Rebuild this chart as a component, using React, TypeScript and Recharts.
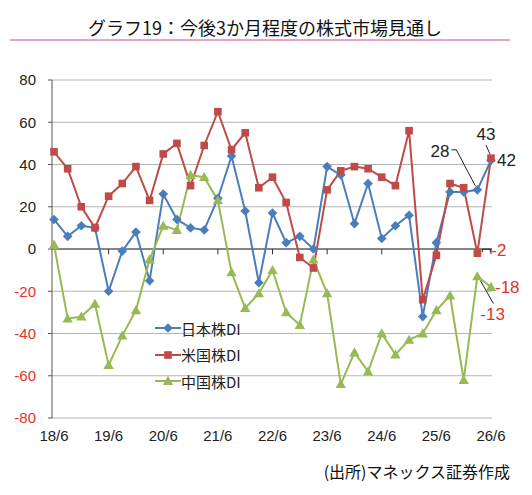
import React from 'react'
import {
  LineChart,
  Line,
  XAxis,
  YAxis,
  CartesianGrid,
  ReferenceLine,
  Legend,
  LabelList,
} from 'recharts'

// quarterly survey points, 2018/6 .. 2026/6
const periods = [
  '18/6', '18/9', '18/12', '19/3', '19/6', '19/9', '19/12', '20/3', '20/6', '20/9', '20/12',
  '21/3', '21/6', '21/9', '21/12', '22/3', '22/6', '22/9', '22/12', '23/3', '23/6', '23/9',
  '23/12', '24/3', '24/6', '24/9', '24/12', '25/3', '25/6', '25/9', '25/12', '26/3', '26/6',
]

const japanDI = [
  14, 6, 11, 10, -20, -1, 8, -15, 26, 14, 10, 9, 24, 44, 18, -16, 17, 3, 6, 0, 39, 35,
  12, 31, 5, 11, 16, -32, 3, 27, 27, 28, 42,
]

const usDI = [
  46, 38, 20, 10, 25, 31, 39, 23, 45, 50, 30, 49, 65, 47, 55, 29, 34, 22, -4, -9, 28, 37,
  39, 38, 34, 30, 56, -24, -3, 31, 29, -2, 43,
]

const chinaDI = [
  2, -33, -32, -26, -55, -41, -29, -5, 11, 9, 35, 34, 23, -11, -28, -21, -10, -30, -36, -5, -21, -64,
  -49, -58, -40, -50, -43, -40, -29, -22, -62, -13, -18,
]

const seriesNames = ['日本株DI', '米国株DI', '中国株DI']
const yTicks = [-80, -60, -40, -20, 0, 20, 40, 60, 80]
const yearTicks = periods.filter((p) => p.endsWith('/6'))

const data = periods.map((p, i) => ({
  period: p,
  japan: japanDI[i],
  us: usDI[i],
  china: chinaDI[i],
}))

const FONT = "'Noto Sans CJK JP', sans-serif"
const NUM_FONT = "'Liberation Sans', Arial, sans-serif"
const BLUE = '#4a7ebb'
const RED = '#be4b48'
const GREEN = '#98b954'
const NEG = '#e0332c'

const Diamond = ({ cx, cy, color }: any) => {
  const r = 4.8
  return <path d={`M${cx},${cy - r}L${cx + r},${cy}L${cx},${cy + r}L${cx - r},${cy}Z`} fill={color} />
}
const Square = ({ cx, cy, color }: any) => (
  <rect x={cx - 3.8} y={cy - 3.8} width={7.6} height={7.6} fill={color} />
)
const Triangle = ({ cx, cy, color }: any) => {
  const r = 5.2
  return <path d={`M${cx},${cy - r}L${cx + r},${cy + r * 0.75}L${cx - r},${cy + r * 0.75}Z`} fill={color} />
}

const shapes: Record<string, any> = { 日本株DI: Diamond, 米国株DI: Square, 中国株DI: Triangle }

const dotOf = (Shape: any, color: string) => (p: any) =>
  <Shape key={`dot-${p.index}`} cx={p.cx} cy={p.cy} color={color} />

const last = periods.length - 1

const numStyle = { fontSize: 17, fontFamily: NUM_FONT }

const japanLabel = (p: any) => {
  const { x, y, index, value } = p
  if (index === last) {
    return (
      <text x={x + 6} y={y} dy="0.35em" fill="#222" style={numStyle}>{value}</text>
    )
  }
  if (index === last - 1) {
    return (
      <g>
        <polyline points={`${x - 26},${y - 40} ${x - 21},${y - 40} ${x - 2},${y - 4}`} fill="none" stroke="#222" strokeWidth={1} />
        <text x={x - 28} y={y - 39} dy="0.35em" textAnchor="end" fill="#222" style={numStyle}>{value}</text>
      </g>
    )
  }
  return null
}

const usLabel = (p: any) => {
  const { x, y, index, value } = p
  if (index === last) {
    return (
      <g>
        <line x1={x - 5} y1={y - 13} x2={x - 1} y2={y - 4} stroke="#222" strokeWidth={1} />
        <text x={x - 5} y={y - 24} dy="0.35em" textAnchor="middle" fill="#222" style={numStyle}>{value}</text>
      </g>
    )
  }
  if (index === last - 1) {
    return (
      <g>
        <path d={`M${x + 5},${y - 1} V${y - 4} H${x + 13} V${y - 1}`} fill="none" stroke="#222" strokeWidth={1} />
        <text x={x + 14} y={y - 3} dy="0.35em" fill={NEG} style={numStyle}>{value}</text>
      </g>
    )
  }
  return null
}

const chinaLabel = (p: any) => {
  const { x, y, index, value } = p
  if (index === last) {
    return (
      <text x={x + 4} y={y} dy="0.35em" fill={NEG} style={numStyle}>{value}</text>
    )
  }
  if (index === last - 1) {
    return (
      <g>
        <line x1={x + 3} y1={y + 4} x2={x + 16} y2={y + 27} stroke="#222" strokeWidth={1} />
        <text x={x + 3} y={y + 38} dy="0.35em" fill={NEG} style={numStyle}>{value}</text>
      </g>
    )
  }
  return null
}

const YTick = ({ x, y, payload }: any) => (
  <text x={x} y={y} dy="0.35em" textAnchor="end" fill={payload.value < 0 ? NEG : '#222'} fontSize={15} fontFamily={NUM_FONT}>
    {payload.value}
  </text>
)

const LegendBox = ({ payload }: any) => {
  const items = [...(payload || [])].sort(
    (a: any, b: any) => seriesNames.indexOf(a.value) - seriesNames.indexOf(b.value),
  )
  return (
    <div style={{ fontFamily: FONT, fontSize: 15, color: '#222' }}>
      {items.map((entry: any) => {
        const Shape = shapes[entry.value]
        return (
          <div key={entry.value} style={{ display: 'flex', alignItems: 'center', height: 26.5 }}>
            <svg width={26} height={14} style={{ display: 'block' }}>
              <line x1={0} y1={7} x2={26} y2={7} stroke={entry.color} strokeWidth={2} />
              {Shape && <Shape cx={13} cy={7} color={entry.color} />}
            </svg>
            <span style={{ lineHeight: 1 }}>{entry.value}</span>
          </div>
        )
      })}
    </div>
  )
}

export default function App() {
  return (
    <div style={{ position: 'absolute', left: 0, top: 0, width: 532, height: 495, background: '#fff', fontFamily: FONT }}>
      <LineChart width={532} height={495} data={data} margin={{ top: 80, right: 40, bottom: 47, left: 12 }}>
        <CartesianGrid vertical={false} stroke="#b4b4b4" strokeWidth={1} />
        <XAxis
          dataKey="period"
          interval={3}
          axisLine={false}
          tickLine={false}
          tickSize={0}
          tickMargin={12}
          height={30}
          padding={{ left: 2, right: 1 }}
          tick={{ fill: '#222', fontSize: 15, fontFamily: NUM_FONT }}
        />
        <YAxis
          domain={[-80, 80]}
          ticks={yTicks}
          width={40}
          tickSize={4}
          tickMargin={12}
          axisLine={{ stroke: '#555' }}
          tickLine={{ stroke: '#555' }}
          tick={<YTick />}
        />
        <ReferenceLine y={0} stroke="#333" strokeWidth={1} />
        {yearTicks.slice(1).map((t) => (
          <ReferenceLine
            key={`tick-${t}`}
            segment={[{ x: t, y: 0 }, { x: t, y: -2.5 }]}
            stroke="#333"
            strokeWidth={1}
          />
        ))}
        <Line
          name={seriesNames[0]}
          dataKey="japan"
          stroke={BLUE}
          strokeWidth={2}
          dot={dotOf(Diamond, BLUE)}
          activeDot={false}
          isAnimationActive={false}
        >
          <LabelList dataKey="japan" content={japanLabel} />
        </Line>
        <Line
          name={seriesNames[1]}
          dataKey="us"
          stroke={RED}
          strokeWidth={2}
          dot={dotOf(Square, RED)}
          activeDot={false}
          isAnimationActive={false}
        >
          <LabelList dataKey="us" content={usLabel} />
        </Line>
        <Line
          name={seriesNames[2]}
          dataKey="china"
          stroke={GREEN}
          strokeWidth={2}
          dot={dotOf(Triangle, GREEN)}
          activeDot={false}
          isAnimationActive={false}
        >
          <LabelList dataKey="china" content={chinaLabel} />
        </Line>
        <Legend
          layout="vertical"
          align="center"
          verticalAlign="middle"
          content={<LegendBox />}
          wrapperStyle={{ left: 155, top: 315, width: 'auto', height: 'auto' }}
        />
      </LineChart>

      <div style={{ position: 'absolute', left: 0, top: 15, width: 530, textAlign: 'center', fontSize: 18, color: '#111', lineHeight: '24px' }}>
        グラフ19：今後3か月程度の株式市場見通し
      </div>
      <div style={{ position: 'absolute', left: 10, top: 39, width: 500, height: 2, background: '#e3a6c6' }} />
      <div style={{ position: 'absolute', right: 22, top: 460, fontSize: 16, color: '#111', lineHeight: '22px' }}>
        (出所)マネックス証券作成
      </div>
    </div>
  )
}
